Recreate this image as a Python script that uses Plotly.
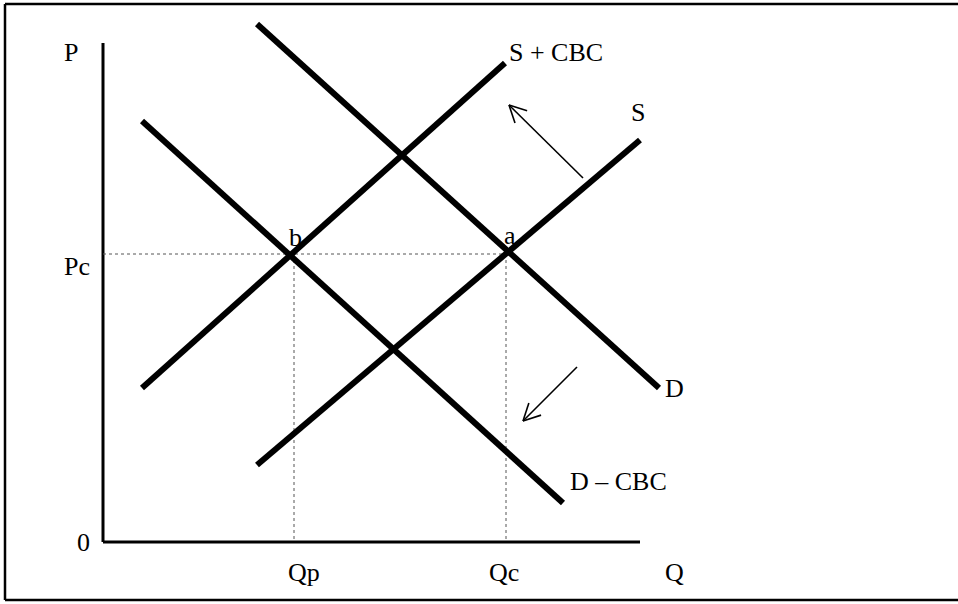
import math
import plotly.graph_objects as go

# curve end points (Q, P)
supply_q = [154, 537]
supply_p = [77, 402]
supply_cbc_q = [39, 402]
supply_cbc_p = [154, 479]
demand_q = [154, 556]
demand_p = [518, 154]
demand_cbc_q = [39, 460]
demand_cbc_p = [421, 39]

# equilibrium values
pc = 288
qp = 191
qc = 403

# axis extents
q_max = 537
p_max = 499

# shift arrows: tail -> head
shift_tail_q = [480, 474]
shift_tail_p = [364, 175]
shift_head_q = [406, 420]
shift_head_p = [437, 121]

fig = go.Figure()

def add_line(x, y, width, color="black", dash="solid"):
    fig.add_trace(go.Scatter(x=x, y=y, mode="lines", hoverinfo="skip",
                             line=dict(color=color, width=width, dash=dash)))

# axes
add_line([0, 0], [p_max, 0], 3)
add_line([0, q_max], [0, 0], 3)

# dotted guides
add_line([0, qc], [pc, pc], 1, "#555", "dot")
add_line([qp, qp], [pc, 0], 1, "#555", "dot")
add_line([qc, qc], [pc, 0], 1, "#555", "dot")

# supply and demand curves
for q, p in [(supply_cbc_q, supply_cbc_p), (supply_q, supply_p),
             (demand_q, demand_p), (demand_cbc_q, demand_cbc_p)]:
    add_line(q, p, 6)

# shift arrows with open heads
for tq, tp, hq, hp in zip(shift_tail_q, shift_tail_p, shift_head_q, shift_head_p):
    add_line([tq, hq], [tp, hp], 1.6)
    ang = math.atan2(tp - hp, tq - hq)
    for side in (-1, 1):
        a = ang + side * math.radians(27)
        add_line([hq, hq + 19 * math.cos(a)], [hp, hp + 19 * math.sin(a)], 1.6)

labels = [
    ("P", -41, 490), ("Pc", -41, 276), ("0", -28, 0),
    ("b", 184, 305), ("a", 399, 307),
    ("S + CBC", 404, 490), ("S", 526, 430),
    ("D", 560, 154), ("D \u2013 CBC", 465, 61),
    ("Qp", 183, -30), ("Qc", 384, -30), ("Q", 560, -30),
]
for text, x, y in labels:
    fig.add_annotation(x=x, y=y, text=text, showarrow=False,
                       xanchor="left", yanchor="middle",
                       font=dict(family="Liberation Serif", size=26, color="black"))

# outer frame: left, top and bottom edges; it runs off the right of the image
frame = dict(color="black", width=2.5)
left, top, bottom = 5 / 958, 1 - 4 / 604, 1 - 600 / 604
fig.add_shape(type="line", xref="paper", yref="paper",
              x0=left, x1=left, y0=bottom, y1=top, line=frame)
fig.add_shape(type="line", xref="paper", yref="paper",
              x0=left, x1=1.2, y0=top, y1=top, line=frame)
fig.add_shape(type="line", xref="paper", yref="paper",
              x0=left, x1=1.2, y0=bottom, y1=bottom, line=frame)

fig.update_layout(
    width=958, height=604,
    margin=dict(l=0, r=0, t=0, b=0),
    plot_bgcolor="white", paper_bgcolor="white",
    showlegend=False,
    xaxis=dict(range=[-103, 855], visible=False, fixedrange=True),
    yaxis=dict(range=[-62, 542], visible=False, fixedrange=True),
)

fig.write_html("out.html", config={"displayModeBar": False},
               post_script="document.body.style.margin='0';document.body.style.overflow='hidden';")
